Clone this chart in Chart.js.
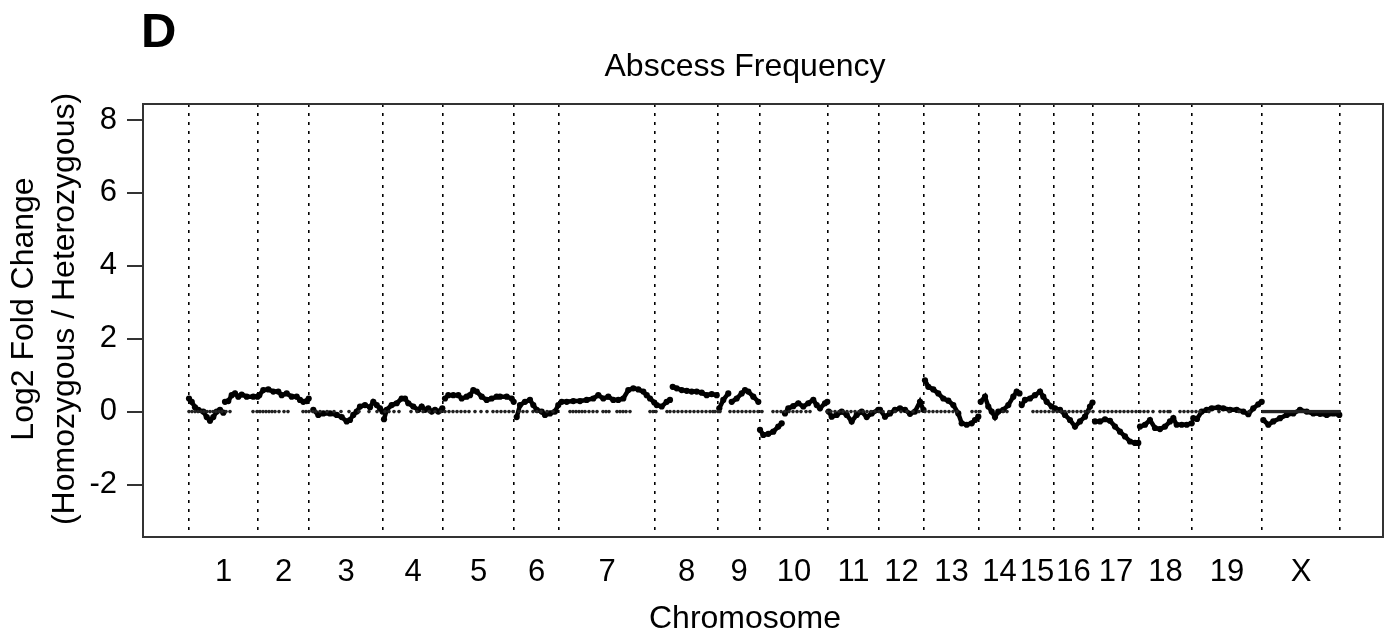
<!DOCTYPE html>
<html>
<head>
<meta charset="utf-8">
<title>Abscess Frequency</title>
<script src="https://cdn.jsdelivr.net/npm/chart.js@4.4.0/dist/chart.umd.min.js"></script>
<style>
  body { margin: 0; background: #fff; }
  #wrap { position: relative; width: 1394px; height: 641px; font-family: 'Liberation Sans', Arial, sans-serif; color: #000; }
  #wrap div { position: absolute; white-space: nowrap; }
  #panel { left: 141px; top: 6px; font-size: 49px; font-weight: bold; line-height: 49px; }
  #main { left: 745px; top: 49px; font-size: 32px; line-height: 32px; transform: translateX(-50%); }
  #xlab { left: 745px; top: 601px; font-size: 32px; line-height: 32px; transform: translateX(-50%); }
  #ylab { left: -207px; top: 268px; width: 500px; height: 82px; font-size: 32px; line-height: 41px; text-align: center; transform: rotate(-90deg); }
</style>
</head>
<body>
<div id="wrap">
  <canvas id="lfcChart" width="1394" height="641"></canvas>
  <div id="panel">D</div>
  <div id="main">Abscess Frequency</div>
  <div id="xlab">Chromosome</div>
  <div id="ylab">Log2 Fold Change<br>(Homozygous / Heterozygous)</div>
</div>
<script>
// chromosome names and their boundaries (marker index along the genome)
const chromNames = ['1', '2', '3', '4', '5', '6', '7', '8', '9', '10', '11', '12', '13', '14', '15', '16', '17', '18', '19', 'X'];
const chromBounds = [0, 69, 120, 194, 254, 325, 370, 466, 529, 571, 639, 690, 735, 790, 831, 865, 904, 950, 1003, 1073, 1151];
const yTicks = [-2, 0, 2, 4, 6, 8];

// log2 fold change [position, value]; null = break in the trace
const foldChange = [
  [0, 0.36], [2.7, 0.27], [6, 0.12], [9.3, 0.05], [14.3, 0], [17.7, -0.15], [21, -0.25], [24.3, -0.15], [27.7, 0], [31, 0.05], [34.3, -0.03], null,
  [36, 0.27], [39.3, 0.29], [42.7, 0.45], [46, 0.5], [49.3, 0.41], [52.7, 0.47], [57.7, 0.41], [64.3, 0.41], [68.5, 0.41], null,
  [70.3, 0.45], [74.3, 0.59], [79.3, 0.61], [84.3, 0.55], [89.3, 0.55], [92.7, 0.45], [97.7, 0.5], [102.7, 0.41], [107.7, 0.41], [111, 0.32], [114.3, 0.27], [117.7, 0.29], [119.7, 0.36], null,
  [124.3, 0.05], [129.3, -0.09], [134.3, -0.05], [141, -0.05], [147.7, -0.09], [152.7, -0.15], [157.7, -0.27], [161, -0.23], [164.3, -0.09], [167.7, 0], [171, 0.14], [176, 0.18], [181, 0.12], [184.3, 0.27], [187.7, 0.18], [191, 0.09], [193.5, 0], null,
  [195, -0.21], [197.7, 0.05], [202.7, 0.18], [207.7, 0.23], [212.7, 0.36], [216, 0.36], [219.3, 0.23], [224.3, 0.14], [229.3, 0.05], [232.7, 0.14], [236, 0.05], [239.3, 0.09], [242.7, 0], [246, 0.05], [249.3, 0], [253.3, 0.09], null,
  [256, 0.36], [259.3, 0.45], [264.3, 0.45], [269.3, 0.45], [272.7, 0.36], [277.7, 0.41], [281, 0.45], [284.3, 0.59], [287.7, 0.55], [292.7, 0.41], [297.7, 0.32], [302.7, 0.36], [307.7, 0.41], [311, 0.41], [317.7, 0.41], [322.7, 0.36], [324.7, 0.27], null,
  [327.7, -0.15], [331, 0.18], [336, 0.27], [341, 0.32], [344.3, 0.18], [347.7, 0.05], [352.7, 0], [356, -0.09], [361, -0.05], [366, 0], [369.3, 0.18], null,
  [372.7, 0.27], [377.7, 0.27], [384.3, 0.29], [391, 0.29], [397.7, 0.32], [404.3, 0.36], [409.3, 0.45], [414.3, 0.36], [419.3, 0.41], [424.3, 0.32], [429.3, 0.32], [434.3, 0.36], [439.3, 0.59], [444.3, 0.64], [449.3, 0.61], [454.3, 0.55], [457.7, 0.45], [461, 0.36], [465.3, 0.25], null,
  [467.7, 0.18], [472.7, 0.14], [477.7, 0.27], [481, 0.32], null,
  [483.7, 0.68], [487.7, 0.64], [492.7, 0.59], [497.7, 0.57], [502.7, 0.55], [507.7, 0.55], [512.7, 0.52], [517.7, 0.45], [522.7, 0.48], [527.7, 0.45], null,
  [530.3, 0.09], [534.3, 0.32], [539.3, 0.5], null,
  [542.7, 0.27], [547.7, 0.36], [552.7, 0.5], [556, 0.59], [559.3, 0.55], [564.3, 0.41], [569.3, 0.27], null,
  [571, -0.5], [574.3, -0.64], [579.3, -0.61], [584.3, -0.55], [589.3, -0.41], [592.7, -0.32], null,
  [596, -0.05], [599.3, 0.09], [604.3, 0.15], [609.3, 0.23], [614.3, 0.14], [619.3, 0.23], [624.3, 0.32], [627.7, 0.18], [631, 0.09], [636, 0.23], [638.3, 0.27], null,
  [639.7, 0], [642.7, -0.14], [647.7, -0.09], [652.7, 0], [657.7, -0.09], [662.7, -0.27], [667.7, -0.09], [672.7, 0], [677.7, -0.15], [682.7, -0.05], [689.3, 0.05], null,
  [691, 0.05], [696, -0.14], [701, -0.05], [706, 0.05], [711, 0.09], [716, 0.05], [721, -0.06], [726, 0], [731, 0.27], [734.5, 0.05], null,
  [736, 0.86], [739.3, 0.68], [744.3, 0.61], [749.3, 0.5], [754.3, 0.36], [759.3, 0.3], [764.3, 0.18], [769.3, -0.05], [772.7, -0.32], [777.7, -0.36], [782.7, -0.32], [786, -0.23], [789.3, -0.14], null,
  [791.7, 0.27], [796, 0.41], [799.3, 0.14], [802.7, 0], [806, -0.15], [809.3, 0], [814.3, 0.05], [819.3, 0.18], [824.3, 0.41], [827.7, 0.55], [830.5, 0.5], null,
  [832.7, 0.18], [836, 0.32], [841, 0.36], [846, 0.45], [851, 0.55], [854.3, 0.41], [857.7, 0.27], [862.7, 0.14], null,
  [866, 0.09], [871, 0.05], [876, -0.09], [881, -0.23], [886, -0.41], [891, -0.27], [896, -0.14], [901, 0.14], [903.5, 0.25], null,
  [906, -0.27], [911, -0.27], [916, -0.21], [921, -0.25], [926, -0.41], [931, -0.55], [936, -0.68], [941, -0.82], [946, -0.86], [949.3, -0.86], null,
  [951, -0.41], [956, -0.36], [961, -0.23], [966, -0.45], [971, -0.48], [976, -0.41], [981, -0.27], [984.3, -0.18], [987.7, -0.36], [992.7, -0.36], [997.7, -0.36], [1002.7, -0.32], null,
  [1004.3, -0.18], [1008, -0.2], [1012.7, 0], [1017.7, 0.05], [1022.7, 0.09], [1029.3, 0.11], [1034.3, 0.09], [1041, 0.05], [1047.7, 0.05], [1054.3, 0], [1059.3, -0.07], [1064.3, 0.09], [1069.3, 0.2], [1072.7, 0.27], null,
  [1074.3, -0.23], [1079.3, -0.36], [1084.3, -0.27], [1091, -0.18], [1097.7, -0.09], [1104.3, -0.05], [1111, 0.05], [1117.7, 0], [1124.3, -0.05], [1131, -0.06], [1137.7, -0.09], [1144.3, -0.05], [1150.3, -0.09]
];

// markers sitting on the zero line (position only)
const zeroDots = [
  0, 3, 6, 9, 12, 15, 18, 21, 24, 27, 30, 33, 37, 41,
  64, 68, 71, 74, 77, 80, 83, 86, 90, 95, 99,
  114, 117, 120, 124, 127, 131, 138, 145, 152, 160, 170, 180, 188,
  196, 200, 205, 210, 222, 228, 234, 240, 246, 252,
  256, 260, 264, 268, 272, 276, 280, 286, 292, 298, 304, 308, 312, 316, 320, 324,
  330, 334, 338, 344, 348, 352, 358, 364,
  381, 384, 387, 390, 393, 396, 400, 404, 408, 414, 417, 420, 428, 431, 434, 437, 441,
  461, 464, 467, 478, 481, 485, 489, 493, 497, 501, 505, 509, 513, 517, 521, 524,
  526, 529, 531, 541, 545, 549, 553, 557, 561, 565, 569, 573,
  584, 588, 592, 596, 600, 604, 608, 612, 617, 621,
  638, 642, 646, 650, 654, 658, 662, 666, 670, 674, 678, 682, 686, 690,
  694, 700, 706, 712, 718, 724, 730,
  736, 740, 744, 748, 752, 756, 760, 764, 768, 783, 787, 791, 814, 818,
  844, 848, 852, 856, 860, 864, 868, 872, 876, 880, 884, 888, 892, 896, 900, 904,
  911, 915, 919, 923, 927, 931, 935, 939, 943, 947, 951, 955, 959, 964,
  971, 975, 979, 981, 991, 995, 999, 1003, 1007, 1011,
  1020, 1030, 1040, 1050, 1060,
  1074, 1076, 1078, 1080, 1082, 1084, 1086, 1088, 1090, 1092, 1094, 1096, 1098, 1100, 1102, 1104, 1106, 1108, 1110, 1112,
  1114, 1116, 1118, 1120, 1122, 1124, 1126, 1128, 1130, 1132, 1134, 1136, 1138, 1140, 1142, 1144, 1146, 1148, 1150
];

// label positions = middle of each chromosome
const chromMid = chromNames.map((n, i) => (chromBounds[i] + chromBounds[i + 1]) / 2);

// x range with a little room on both ends
const xMin = -46;
const xMax = 1194;

Chart.defaults.font.family = "'Liberation Sans', Arial, sans-serif";
Chart.defaults.color = '#000';

// box around the plot region
const plotBox = {
    id: 'plotBox',
    afterDraw(chart) {
        const { ctx, chartArea: a } = chart;
        ctx.save();
        ctx.strokeStyle = '#333';
        ctx.lineWidth = 2;
        ctx.strokeRect(a.left, a.top, a.right - a.left, a.bottom - a.top);
        ctx.restore();
    }
};

const ctx = document.getElementById('lfcChart').getContext('2d');

new Chart(ctx, {
    type: 'scatter',
    data: {
        datasets: [
            {
                label: 'zero',
                data: zeroDots.map(x => ({ x: x, y: 0 })),
                showLine: false,
                pointRadius: 1.8,
                pointBackgroundColor: '#222',
                pointBorderWidth: 0
            },
            {
                label: 'log2FC',
                data: foldChange.map(p => p ? { x: p[0], y: p[1] } : { x: null, y: null }),
                showLine: true,
                spanGaps: false,
                borderColor: '#000',
                borderWidth: 4.5,
                pointRadius: 3.1,
                pointBackgroundColor: '#000',
                pointBorderWidth: 0
            }
        ]
    },
    options: {
        responsive: false,
        animation: false,
        layout: { padding: { top: 104, right: 11, bottom: 0, left: 0 } },
        plugins: {
            legend: { display: false },
            tooltip: { enabled: false }
        },
        scales: {
            x: {
                type: 'linear',
                position: 'bottom',
                min: xMin,
                max: xMax,
                afterBuildTicks: s => { s.ticks = chromMid.map(v => ({ value: v })); },
                afterFit: s => { s.height = 104; },
                ticks: {
                    autoSkip: false,
                    maxRotation: 0,
                    padding: 17,
                    font: { size: 31 },
                    color: '#000',
                    callback: (v, i) => chromNames[i]
                },
                grid: { display: false, drawTicks: false },
                border: { display: false }
            },
            // dotted chromosome boundaries
            xb: {
                type: 'linear',
                position: 'bottom',
                min: xMin,
                max: xMax,
                afterBuildTicks: s => { s.ticks = chromBounds.map(v => ({ value: v })); },
                afterFit: s => { s.height = 0; },
                ticks: { display: false },
                grid: { color: '#000', lineWidth: 1.6, drawTicks: false },
                border: { display: false, dash: [3, 6] }
            },
            y: {
                min: -3.44,
                max: 8.44,
                afterBuildTicks: s => { s.ticks = yTicks.map(v => ({ value: v })); },
                afterFit: s => { s.width = 143; },
                ticks: { padding: 10, font: { size: 31 }, color: '#000' },
                grid: { drawOnChartArea: false, drawTicks: true, tickLength: 16, color: '#333', lineWidth: 2 },
                border: { display: false }
            }
        }
    },
    plugins: [plotBox]
});
</script>
</body>
</html>
